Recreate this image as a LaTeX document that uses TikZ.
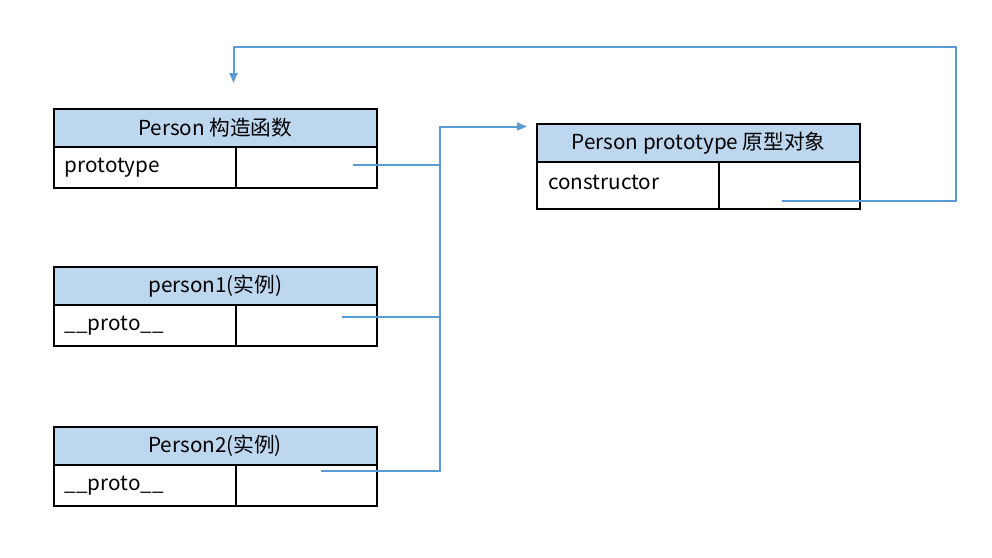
\documentclass[tikz,border=0pt]{standalone}
\usepackage{fontspec}
\setmainfont{Noto Sans CJK SC}
\usetikzlibrary{positioning,arrows.meta}
\definecolor{headblue}{HTML}{BDD7EE}
\definecolor{linkblue}{HTML}{5B9BD5}
\begin{document}
\begin{tikzpicture}[x=0.75pt,y=-0.75pt,
    font=\fontsize{15.5}{18}\selectfont,
    cell/.style={rectangle, draw=black, line width=1.5pt, inner sep=0pt, outer sep=0pt},
    head/.style={cell, fill=headblue, minimum width=242.5pt, minimum height=28.75pt},
    key/.style={cell, align=left, inner xsep=8.5pt, text width=119.5pt, minimum height=30.75pt},
    val/.style={cell, minimum width=106pt, minimum height=30.75pt},
    link/.style={draw=linkblue, line width=1.5pt},
    tip/.style={-{Triangle[length=7.5pt,width=6pt]}}]
    \useasboundingbox (0,0) rectangle (992,557);

    % Draw nodes
    \node[head, anchor=north west] (ctorhead) at (53.5,108.5) {Person 构造函数};
    \node[key, below right=0pt and 0pt of ctorhead.south west] (ctorkey) {prototype};
    \node[val, right=0pt of ctorkey] (ctorval) {};

    \node[head, anchor=north west] (p1head) at (53.5,266.5) {person1(实例)};
    \node[key, below right=0pt and 0pt of p1head.south west] (p1key) {\_\_proto\_\_};
    \node[val, right=0pt of p1key] (p1val) {};

    \node[head, anchor=north west] (p2head) at (53.5,426.5) {Person2(实例)};
    \node[key, below right=0pt and 0pt of p2head.south west] (p2key) {\_\_proto\_\_};
    \node[val, right=0pt of p2key] (p2val) {};

    \node[head, anchor=north west] (protohead) at (537,124) {Person prototype 原型对象};
    \node[key, minimum height=35pt, text depth=0.55em, below right=0pt and 0pt of protohead.south west] (protokey) {constructor};
    \node[val, minimum height=35pt, right=0pt of protokey] (protoval) {};

    % Connector ends
    \coordinate (ctorptr) at (353,164.5);
    \coordinate (p1ptr) at (342,317);
    \coordinate (p2ptr) at (321,471);
    \coordinate (bus) at (440,126.5);
    \coordinate (protoin) at (527,126.5);
    \coordinate (consptr) at (781.5,201);
    \coordinate (loopcorner) at (956,46.5);
    \coordinate (ctorin) at (233.5,83);

    % Draw directed edges
    \draw[link] (ctorptr) -- (ctorptr -| bus);
    \draw[link] (p1ptr) -- (p1ptr -| bus);
    \draw[link,tip] (p2ptr) -| (bus) -- (protoin);
    \draw[link,tip] (consptr) -| (loopcorner) -| (ctorin);
\end{tikzpicture}
\end{document}
